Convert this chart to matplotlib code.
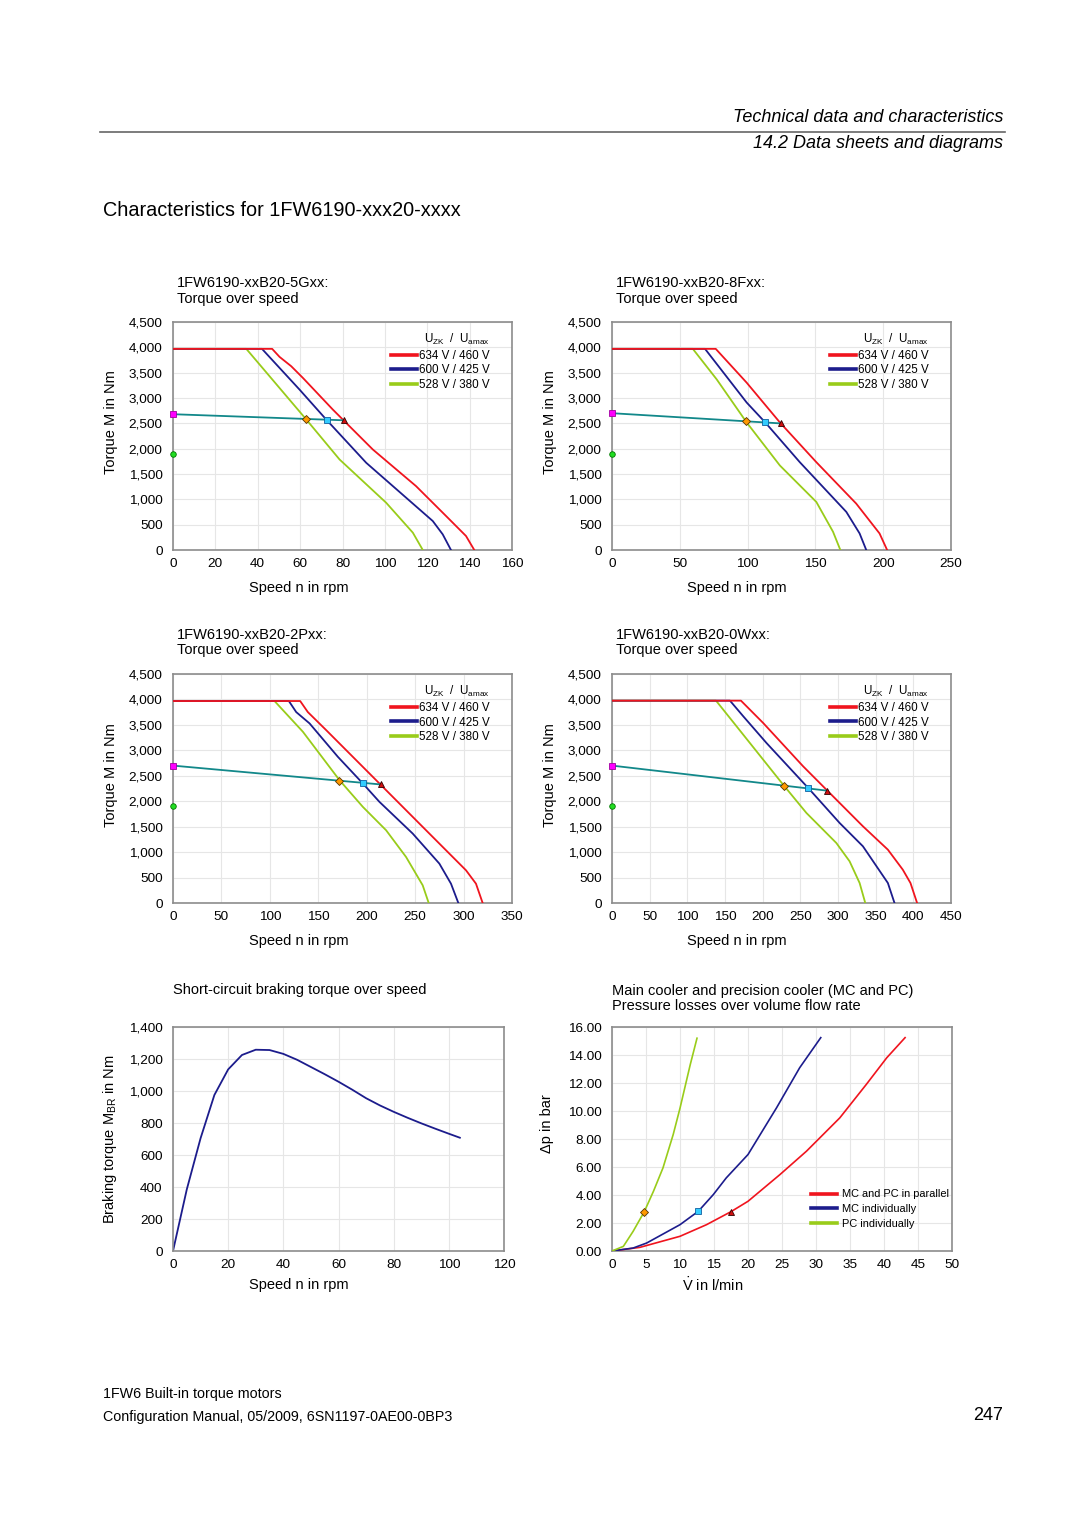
import matplotlib
matplotlib.use('Agg')
import matplotlib.pyplot as plt
import matplotlib.lines as mlines

# ---- data ----
# 1FW6190-xxB20-5Gxx
g5_red_n = [0, 46.8, 50.3, 55.8, 61.3, 75.4, 80.9, 94.3, 114.7, 128.9, 138.3, 142.2]
g5_red_m = [3970, 3970, 3811, 3627, 3397, 2773, 2543, 1984, 1261, 670, 276, 0]
g5_blue_n = [0, 42.0, 59.7, 72.3, 91.2, 122.6, 127.3, 131.2]
g5_blue_m = [3970, 3970, 3167, 2576, 1721, 572, 309, 0]
g5_green_n = [0, 34.6, 62.9, 78.6, 100.6, 113.2, 117.9]
g5_green_m = [3970, 3970, 2576, 1787, 933, 342, 0]
g5_s1_n = [0, 80.6]
g5_s1_m = [2680, 2560]
g5_pts_n = [62.7, 72.6, 80.6]
g5_pts_m = [2587, 2573, 2560]

# 1FW6190-xxB20-8Fxx
f8_red_n = [0, 76.5, 99.3, 123.8, 150.7, 180.1, 197.3, 202.9]
f8_red_m = [3970, 3970, 3303, 2518, 1733, 916, 327, 0]
f8_blue_n = [0, 68.6, 99.3, 113.0, 138.5, 172.8, 182.6, 187.5]
f8_blue_m = [3970, 3970, 2911, 2518, 1733, 752, 327, 0]
f8_green_n = [0, 59.6, 77.2, 99.3, 123.8, 150.7, 163.0, 168.4]
f8_green_m = [3970, 3970, 3368, 2518, 1668, 948, 360, 0]
f8_s1_n = [0, 124.8]
f8_s1_m = [2700, 2498]
f8_pts_n = [99.0, 113.2, 124.8]
f8_pts_m = [2540, 2517, 2498]

# 1FW6190-xxB20-2Pxx
p2_red_n = [0, 131.3, 139.2, 158.1, 213.1, 268.1, 302.5, 312.8, 319.7]
p2_red_m = [3969, 3969, 3752, 3398, 2349, 1299, 643, 380, 0]
p2_blue_n = [0, 119.6, 127.2, 141.0, 170.2, 196.0, 213.1, 247.5, 275.0, 287.0, 294.6]
p2_blue_m = [3969, 3969, 3752, 3529, 2873, 2349, 1988, 1364, 774, 380, 0]
p2_green_n = [0, 104.8, 134.1, 171.9, 196.0, 220.0, 240.6, 257.8, 264.0]
p2_green_m = [3969, 3969, 3365, 2414, 1889, 1430, 905, 348, 0]
p2_s1_n = [0, 214.8]
p2_s1_m = [2700, 2329]
p2_pts_n = [171.9, 196.0, 214.8]
p2_pts_m = [2403, 2362, 2329]

# 1FW6190-xxB20-0Wxx
w0_red_n = [0, 171.2, 200.7, 253.7, 284.6, 333.1, 366.2, 386.0, 396.2, 405.0]
w0_red_m = [3976, 3976, 3537, 2686, 2227, 1507, 1048, 655, 393, 0]
w0_blue_n = [0, 156.6, 174.3, 205.1, 262.5, 302.2, 333.1, 366.2, 375.0]
w0_blue_m = [3976, 3976, 3668, 3144, 2227, 1572, 1114, 393, 0]
w0_green_n = [0, 138.1, 165.4, 227.2, 258.1, 297.8, 315.4, 328.7, 336.2]
w0_green_m = [3976, 3976, 3471, 2325, 1769, 1179, 819, 393, 0]
w0_s1_n = [0, 285.9]
w0_s1_m = [2700, 2207]
w0_pts_n = [228.1, 260.3, 285.9]
w0_pts_m = [2307, 2252, 2207]

# short-circuit braking torque
br_n = [0, 5, 10, 15, 20, 25, 30, 35, 40, 45, 50, 55, 60, 65, 70, 75, 80, 85, 90, 95, 100, 104]
br_m = [0, 385, 705, 975, 1135, 1225, 1258, 1256, 1232, 1195, 1150, 1105, 1058, 1008,
        955, 910, 870, 833, 798, 765, 733, 708]

# cooler pressure losses
par_v = [0, 4.1, 10.0, 13.9, 17.5, 20.0, 24.7, 28.6, 33.5, 37.4, 40.4, 43.1]
par_p = [0, 0.26, 1.05, 1.88, 2.81, 3.55, 5.46, 7.13, 9.51, 11.9, 13.8, 15.24]
mc_v = [0, 3.1, 5.1, 10.0, 12.7, 14.9, 16.8, 20.0, 24.2, 27.6, 30.7]
mc_p = [0, 0.21, 0.57, 1.88, 2.84, 4.03, 5.22, 6.89, 10.23, 13.09, 15.24]
pc_v = [0, 1.67, 3.1, 4.75, 6.1, 7.5, 9.0, 10.0, 11.5, 12.5]
pc_p = [0, 0.33, 1.4, 2.81, 4.27, 5.94, 8.32, 10.2, 13.3, 15.2]
cool_pts_v = [4.75, 12.65, 17.5]
cool_pts_p = [2.8, 2.84, 2.81]

volt_labels = ['634 V / 460 V', '600 V / 425 V', '528 V / 380 V']
cool_labels = ['MC and PC in parallel', 'MC individually', 'PC individually']

RED = '#F0141E'
BLUE = '#1C1C8C'
GREEN = '#99CC1A'
TEAL = '#12888A'

plt.rcParams['font.family'] = ['Liberation Sans', 'DejaVu Sans']

W, H = 1080, 1527
fig = plt.figure(figsize=(W / 100, H / 100), dpi=100)


def place(left, top, right, bottom):
    return fig.add_axes([left / W, 1 - bottom / H, (right - left) / W, (bottom - top) / H])


def style(ax, xmax, xstep, ymax, ystep, yfmt):
    ax.set_xlim(0, xmax)
    ax.set_ylim(0, ymax)
    ax.set_xticks(range(0, xmax + 1, xstep))
    yt = [i * ystep for i in range(int(round(ymax / ystep)) + 1)]
    ax.set_yticks(yt)
    ax.set_yticklabels([yfmt(v) for v in yt])
    ax.grid(True, color='#E6E6E6', lw=0.8)
    ax.set_axisbelow(True)
    ax.tick_params(length=0, labelsize=9.7, pad=6)
    ax.tick_params(axis='y', pad=7.5)
    for s in ax.spines.values():
        s.set_color('#8C8C8C')
        s.set_linewidth(1.2)


def markers(ax, xs, ys):
    ax.plot(xs[0], ys[0], 'D', ms=3.6, mfc='#FF9900', mec='#553300', mew=0.6, zorder=5)
    ax.plot(xs[1], ys[1], 's', ms=4.2, mfc='#33CCFF', mec='#1060A0', mew=0.6, zorder=5)
    ax.plot(xs[2], ys[2], '^', ms=4.6, mfc='#D01010', mec='#300000', mew=0.6, zorder=5)


def torque_panel(box, name, xmax, xstep, curves, s1_n, s1_m, pts_n, pts_m, xlab_frac):
    ax = place(*box)
    style(ax, xmax, xstep, 4500, 500, lambda v: f'{v:,}')
    for (n, m), col in reversed(list(zip(curves, [RED, BLUE, GREEN]))):
        ax.plot(n, m, color=col, lw=1.3, zorder=3)
    ax.plot(s1_n, s1_m, color=TEAL, lw=1.3, zorder=4)
    # M0 and stall points on the torque axis
    ax.plot([0], [s1_m[0]], 's', ms=4, mfc='#FF00FF', mec='#A000A0', mew=0.6, zorder=5, clip_on=False)
    ax.plot([0], [1900], 'o', ms=4, mfc='#22DD22', mec='#007700', mew=0.6, zorder=5, clip_on=False)
    markers(ax, pts_n, pts_m)
    handles = [mlines.Line2D([], [], color=c, lw=2.6, label=l)
               for c, l in zip([RED, BLUE, GREEN], volt_labels)]
    leg = ax.legend(handles=handles, loc='upper right', bbox_to_anchor=(0.935, 0.955),
                    frameon=False, fontsize=8.4, handlelength=2.3, handletextpad=0.15,
                    labelspacing=0.22, borderpad=0, borderaxespad=0,
                    title=r'U$_{\mathregular{ZK}}$  /  U$_{\mathregular{amax}}$',
                    title_fontsize=8.4)
    leg._legend_box.align = 'right'
    ax.text(0.012, 1.136, name + ':\nTorque over speed', transform=ax.transAxes,
            fontsize=10.5, ha='left', va='center', linespacing=1.1)
    ax.text(xlab_frac, -0.165, 'Speed n in rpm', transform=ax.transAxes,
            fontsize=10.5, ha='center', va='center')
    ax.text(-0.183, 0.56, 'Torque M in Nm', transform=ax.transAxes,
            fontsize=10.5, ha='center', va='center', rotation=90)
    return ax


torque_panel((173, 322, 512, 550), '1FW6190-xxB20-5Gxx', 160, 20,
             [(g5_red_n, g5_red_m), (g5_blue_n, g5_blue_m), (g5_green_n, g5_green_m)],
             g5_s1_n, g5_s1_m, g5_pts_n, g5_pts_m, 0.372)
torque_panel((612, 322, 951, 550), '1FW6190-xxB20-8Fxx', 250, 50,
             [(f8_red_n, f8_red_m), (f8_blue_n, f8_blue_m), (f8_green_n, f8_green_m)],
             f8_s1_n, f8_s1_m, f8_pts_n, f8_pts_m, 0.368)
torque_panel((173, 674, 512, 903), '1FW6190-xxB20-2Pxx', 350, 50,
             [(p2_red_n, p2_red_m), (p2_blue_n, p2_blue_m), (p2_green_n, p2_green_m)],
             p2_s1_n, p2_s1_m, p2_pts_n, p2_pts_m, 0.372)
torque_panel((612, 674, 951, 903), '1FW6190-xxB20-0Wxx', 450, 50,
             [(w0_red_n, w0_red_m), (w0_blue_n, w0_blue_m), (w0_green_n, w0_green_m)],
             w0_s1_n, w0_s1_m, w0_pts_n, w0_pts_m, 0.368)

# braking torque
ax5 = place(173, 1027, 504, 1251)
style(ax5, 120, 20, 1400, 200, lambda v: f'{v:,}')
ax5.plot(br_n, br_m, color=BLUE, lw=1.3)
ax5.text(0.0, 1.165, 'Short-circuit braking torque over speed', transform=ax5.transAxes,
         fontsize=10.5, ha='left', va='center')
ax5.text(0.379, -0.152, 'Speed n in rpm', transform=ax5.transAxes,
         fontsize=10.5, ha='center', va='center')
ax5.text(-0.19, 0.5, r'Braking torque M$_{\mathregular{BR}}$ in Nm', transform=ax5.transAxes,
         fontsize=10.5, ha='center', va='center', rotation=90)

# cooler
ax6 = place(612, 1027, 952, 1251)
style(ax6, 50, 5, 16, 2, lambda v: f'{v:.2f}')
ax6.plot(par_v, par_p, color=RED, lw=1.2, zorder=3)
ax6.plot(mc_v, mc_p, color=BLUE, lw=1.2, zorder=3)
ax6.plot(pc_v, pc_p, color=GREEN, lw=1.2, zorder=3)
markers(ax6, cool_pts_v, cool_pts_p)
h6 = [mlines.Line2D([], [], color=c, lw=2.6, label=l) for c, l in zip([RED, BLUE, GREEN], cool_labels)]
ax6.legend(handles=h6, loc='lower right', bbox_to_anchor=(0.99, 0.1), frameon=False,
           fontsize=7.9, handlelength=2.3, handletextpad=0.45, labelspacing=0.42,
           borderpad=0, borderaxespad=0)
ax6.text(0.0, 1.127, 'Main cooler and precision cooler (MC and PC)\nPressure losses over volume flow rate',
         transform=ax6.transAxes, fontsize=10.5, ha='left', va='center', linespacing=1.1)
ax6.text(0.297, -0.152, r'$\dot{\mathregular{V}}$ in l/min', transform=ax6.transAxes,
         fontsize=10.5, ha='center', va='center')
ax6.text(-0.19, 0.57, 'Δp in bar', transform=ax6.transAxes,
         fontsize=10.5, ha='center', va='center', rotation=90)

# page header / footer
fig.text(1003 / W, 1 - 118 / H, 'Technical data and characteristics', ha='right', va='center',
         fontsize=13, style='italic')
fig.add_artist(mlines.Line2D([100 / W, 1005 / W], [1 - 131.5 / H, 1 - 131.5 / H], color='#666666', lw=1.2))
fig.text(1003 / W, 1 - 144 / H, '14.2 Data sheets and diagrams', ha='right', va='center',
         fontsize=13, style='italic')
fig.text(103 / W, 1 - 210 / H, 'Characteristics for 1FW6190-xxx20-xxxx', ha='left', va='center',
         fontsize=14.3)
fig.text(103 / W, 1 - 1394 / H, '1FW6 Built-in torque motors', ha='left', va='center', fontsize=10.3)
fig.text(103 / W, 1 - 1417 / H, 'Configuration Manual, 05/2009, 6SN1197-0AE00-0BP3', ha='left', va='center',
         fontsize=10.3)
fig.text(1003 / W, 1 - 1415 / H, '247', ha='right', va='center', fontsize=13)

fig.savefig('out.png', dpi=100, facecolor='white')
